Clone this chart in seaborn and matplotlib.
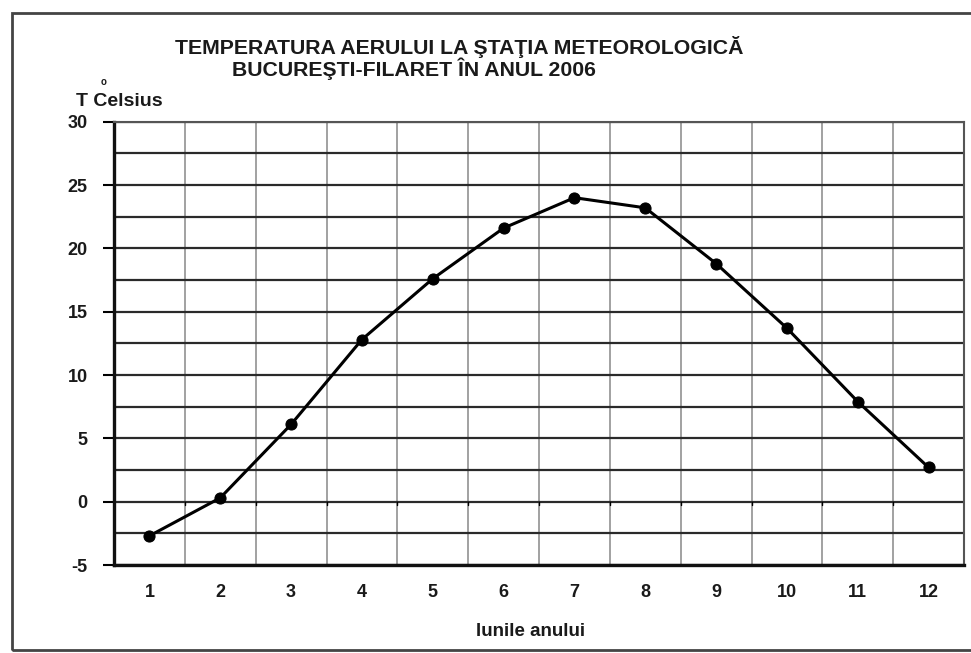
import matplotlib
matplotlib.use("Agg")
import matplotlib.pyplot as plt
from matplotlib.ticker import MultipleLocator, FixedLocator
from matplotlib.patches import Rectangle
import seaborn as sns
import pandas as pd

# Monthly mean air temperature, Bucureşti-Filaret, 2006
luni = [1, 2, 3, 4, 5, 6, 7, 8, 9, 10, 11, 12]
temperaturi = [-2.7, 0.3, 6.1, 12.8, 17.6, 21.6, 24.0, 23.2, 18.8, 13.7, 7.9, 2.7]
y_ticks = [-5, 0, 5, 10, 15, 20, 25, 30]

titlu_1 = "TEMPERATURA AERULUI LA ŞTAŢIA METEOROLOGICĂ"
titlu_2 = "BUCUREŞTI-FILARET ÎN ANUL 2006"
eticheta_y = "T Celsius"
eticheta_x = "lunile anului"

df = pd.DataFrame({"luna": luni, "temp": temperaturi})

sns.set_style("white")
plt.rcParams["font.family"] = ["Liberation Sans", "DejaVu Sans"]
plt.rcParams["axes.unicode_minus"] = False

W, H = 971, 653
fig = plt.figure(figsize=(W / 100, H / 100), dpi=100)
ax = fig.add_axes([114 / W, 1 - 565 / H, 850 / W, 443.3 / H])

sns.lineplot(data=df, x="luna", y="temp", ax=ax, color="black", lw=2.2,
             marker="o", markersize=8, markeredgecolor="black",
             markerfacecolor="black", zorder=5)

ax.set_xlim(0.5, 12.5)
ax.set_ylim(-5, 30)
ax.xaxis.set_major_locator(FixedLocator(luni))
ax.xaxis.set_minor_locator(FixedLocator([m + 0.5 for m in luni[:-1]]))
ax.yaxis.set_major_locator(FixedLocator(y_ticks))
ax.yaxis.set_minor_locator(MultipleLocator(2.5))

# horizontal grid every 2.5 degrees, vertical grid between months
ax.yaxis.grid(True, which="both", color="#2a2a2a", lw=1.6)
ax.xaxis.grid(True, which="minor", color="#9a9a9a", lw=1.3)
ax.xaxis.grid(False, which="major")
ax.set_axisbelow(True)

ax.tick_params(axis="y", which="major", length=8, width=1.5, color="black",
               pad=11, labelsize=13, direction="out", left=True)
ax.tick_params(axis="y", which="minor", length=0)
ax.tick_params(axis="x", which="both", length=0, pad=14, labelsize=13)
for lab in ax.get_xticklabels() + ax.get_yticklabels():
    lab.set_fontweight("bold")
    lab.set_color("#1a1a1a")

# small category ticks along the zero line
for b in [m + 0.5 for m in luni[:-1]]:
    ax.plot([b, b], [0, -0.3], color="black", lw=1.0, zorder=3)

for side in ["top", "right"]:
    ax.spines[side].set_color("#555555")
    ax.spines[side].set_linewidth(1.5)
for side in ["left", "bottom"]:
    ax.spines[side].set_color("#111111")
    ax.spines[side].set_linewidth(2.4)

ax.set_xlabel("")
ax.set_ylabel("")

# titles and axis captions
fig.text(175 / W, 1 - 47 / H, titlu_1, ha="left", va="center",
         fontsize=15.3, fontweight="bold", color="#1a1a1a")
fig.text(232 / W, 1 - 69 / H, titlu_2, ha="left", va="center",
         fontsize=15.3, fontweight="bold", color="#1a1a1a")
fig.text(76 / W, 1 - 101 / H, eticheta_y, ha="left", va="center",
         fontsize=14, fontweight="bold", color="#1a1a1a")
fig.text(104 / W, 1 - 82 / H, "o", ha="center", va="center",
         fontsize=7, fontweight="bold", color="#1a1a1a")
fig.text(531 / W, 1 - 632 / H, eticheta_x, ha="center", va="center",
         fontsize=13.5, fontweight="bold", color="#1a1a1a")

# outer chart frame
fig.patches.append(Rectangle((12 / W, 1 - 650 / H), 980 / W, 637 / H,
                             transform=fig.transFigure, fill=False,
                             edgecolor="#444444", lw=2))

fig.savefig("out.png", dpi=100, facecolor="white")
